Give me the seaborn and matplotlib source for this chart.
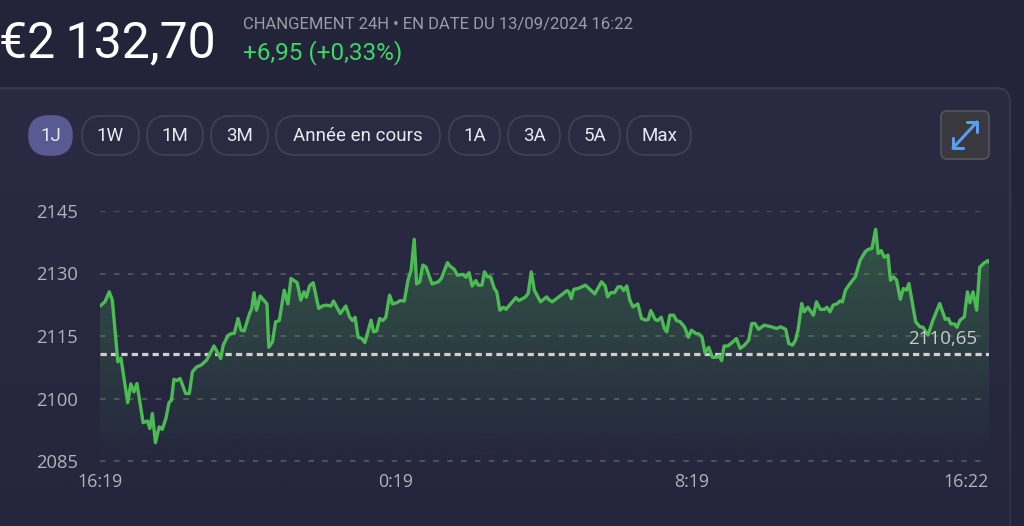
import numpy as np
import pandas as pd
import matplotlib
matplotlib.use("Agg")
import matplotlib.pyplot as plt
import seaborn as sns
from matplotlib.patches import FancyBboxPatch, Polygon
from matplotlib.colors import LinearSegmentedColormap, to_rgb
import matplotlib.transforms as mtransforms

# ---------------- data ----------------
minutes = [0, 8, 15, 20, 29, 34, 45, 50, 55, 60, 70, 77, 81, 85, 90, 96, 101, 107, 112, 116,
           120, 125, 130, 139, 145, 150, 157, 164, 173, 185, 196, 200, 208, 214, 218, 224, 229, 234, 243, 246,
           250, 254, 260, 271, 274, 280, 285, 291, 299, 305, 310, 315, 320, 326, 331, 335, 340, 346, 355, 361,
           367, 375, 379, 390, 399, 405, 410, 414, 419, 425, 430, 440, 444, 449, 454, 459, 464, 470, 475, 482,
           487, 494, 500, 505, 510, 514, 519, 524, 529, 539, 549, 554, 564, 568, 575, 580, 589, 594, 599, 604,
           610, 614, 620, 624, 629, 634, 640, 644, 649, 655, 659, 667, 675, 680, 690, 695, 700, 705, 715, 725,
           728, 734, 744, 758, 761, 765, 769, 776, 788, 803, 814, 820, 824, 829, 835, 841, 846, 850, 855, 860,
           865, 873, 879, 886, 890, 894, 901, 905, 911, 916, 920, 925, 931, 936, 942, 949, 955, 960, 967, 972,
           977, 982, 988, 994, 1001, 1005, 1009, 1013, 1019, 1026, 1033, 1039, 1046, 1053, 1058, 1063, 1069, 1078, 1090, 1098,
           1105, 1113, 1118, 1124, 1129, 1133, 1139, 1143, 1149, 1158, 1163, 1169, 1176, 1180, 1185, 1190, 1197, 1201, 1205, 1210,
           1217, 1226, 1234, 1242, 1247, 1253, 1259, 1263, 1268, 1273, 1279, 1283, 1288, 1293, 1299, 1304, 1309, 1313, 1324, 1331,
           1336, 1344, 1352, 1363, 1372, 1377, 1381, 1387, 1391, 1396, 1403, 1408, 1412, 1417, 1423, 1428, 1435, 1441, 1443]
prices = [2122.2, 2123.2, 2125.6, 2123.6, 2108.8, 2109.7, 2099.0, 2103.5, 2101.6, 2103.6, 2094.2, 2094.6, 2092.8, 2096.4, 2089.4, 2093.2, 2092.6, 2095.2, 2099.0, 2099.6,
          2104.6, 2104.3, 2104.8, 2101.2, 2101.2, 2106.4, 2107.6, 2108.0, 2109.2, 2112.6, 2109.6, 2112.8, 2115.2, 2115.6, 2115.6, 2119.2, 2116.4, 2116.2, 2120.5, 2121.4,
          2125.4, 2121.2, 2124.6, 2122.7, 2112.3, 2113.6, 2118.4, 2118.7, 2126.0, 2122.7, 2128.8, 2128.3, 2127.8, 2123.6, 2125.6, 2124.3, 2127.0, 2127.8, 2121.6, 2122.2,
          2122.4, 2122.2, 2123.4, 2120.4, 2122.2, 2119.6, 2118.7, 2119.5, 2114.7, 2114.4, 2113.4, 2118.8, 2116.0, 2116.2, 2119.2, 2118.7, 2119.5, 2124.8, 2122.7, 2123.0,
          2123.5, 2123.4, 2128.4, 2130.8, 2138.2, 2127.5, 2128.0, 2132.0, 2131.6, 2127.5, 2128.0, 2128.8, 2132.6, 2131.8, 2131.0, 2129.6, 2129.8, 2129.1, 2130.2, 2127.0,
          2128.3, 2127.2, 2127.2, 2130.4, 2129.2, 2129.2, 2126.4, 2125.6, 2121.2, 2121.9, 2121.4, 2122.8, 2124.2, 2123.5, 2124.3, 2125.2, 2130.4, 2126.0, 2123.2, 2124.4,
          2123.8, 2123.2, 2124.3, 2125.9, 2125.6, 2124.0, 2126.2, 2126.4, 2127.2, 2125.1, 2128.0, 2127.0, 2124.4, 2125.4, 2125.4, 2126.8, 2126.8, 2125.9, 2127.0, 2123.6,
          2122.0, 2122.7, 2119.2, 2118.8, 2119.0, 2121.1, 2119.0, 2118.7, 2119.5, 2116.8, 2116.0, 2120.0, 2120.0, 2118.7, 2118.4, 2117.1, 2114.7, 2116.4, 2115.6, 2115.5,
          2114.8, 2111.0, 2112.3, 2109.9, 2109.9, 2110.2, 2109.1, 2112.6, 2112.6, 2113.4, 2114.4, 2112.0, 2112.8, 2114.0, 2118.0, 2118.0, 2116.6, 2117.6, 2117.2, 2116.8,
          2117.2, 2116.6, 2113.2, 2112.8, 2114.0, 2116.4, 2122.8, 2120.8, 2121.9, 2120.0, 2123.2, 2121.4, 2121.4, 2121.9, 2120.8, 2122.4, 2122.8, 2123.4, 2123.2, 2126.0,
          2127.5, 2129.2, 2133.2, 2135.2, 2135.8, 2136.0, 2140.6, 2134.8, 2135.5, 2133.9, 2134.4, 2128.4, 2129.2, 2128.4, 2123.8, 2126.4, 2126.0, 2127.6, 2118.4, 2117.2,
          2117.1, 2115.2, 2118.8, 2122.8, 2119.0, 2119.2, 2117.9, 2117.9, 2117.1, 2118.8, 2119.6, 2125.6, 2123.0, 2125.6, 2121.2, 2131.5, 2132.5, 2133.1, 2132.7]
ref_price = 2110.65
ref_label = "2110,65"
y_ticks = [2085, 2100, 2115, 2130, 2145]
x_tick_minutes = [0, 480, 960, 1443]
x_tick_labels = ["16:19", "0:19", "8:19", "16:22"]
periods = ["1J", "1W", "1M", "3M", "Année en cours", "1A", "3A", "5A", "Max"]
header_price = "€2\u2009132,70"
header_info = "CHANGEMENT 24H • EN DATE DU 13/09/2024 16:22"
header_change = "+6,95 (+0,33%)"

# ---------------- style ----------------
BG = "#23243a"
CARD = "#2a2b43"
CARD_EDGE = "#3a3b54"
LINE = "#4cbb54"
GRID = "#5c5e5c"
TXT_AX = "#b2b2ba"

sns.set_theme(style="dark")
plt.rcParams["font.family"] = ["Open Sans", "DejaVu Sans"]
plt.rcParams["lines.scale_dashes"] = False
HEAD = ["Roboto", "DejaVu Sans"]

W, H = 1024, 526
fig = plt.figure(figsize=(W / 100, H / 100), dpi=100, facecolor=BG)

# background / HTML-like layer in pixel coordinates
bg = fig.add_axes([0, 0, 1, 1])
bg.set_xlim(0, W)
bg.set_ylim(H, 0)
bg.axis("off")
bg.set_facecolor(BG)

card = FancyBboxPatch((-30, 88), 1040, 480, boxstyle="round,pad=0,rounding_size=14",
                      facecolor=CARD, edgecolor=CARD_EDGE, linewidth=1.2, zorder=1)
bg.add_patch(card)
shade = np.linspace(0, 1, 256).reshape(-1, 1)
cm_shade = LinearSegmentedColormap.from_list("s", [(*to_rgb(BG), 0.0), (*to_rgb(BG), 0.7)])
im_s = bg.imshow(shade, extent=[-30, 1010, 568, 88], cmap=cm_shade, aspect="auto", zorder=1.5,
                 interpolation="bilinear")
im_s.set_clip_path(card)

bg.text(-1, 57, header_price, fontsize=36, color="white", family=HEAD,
        ha="left", va="baseline", zorder=3)
bg.text(243, 29, header_info, fontsize=12, color="#9c9ca2", family=HEAD,
        ha="left", va="baseline", zorder=3)
bg.text(243, 59, header_change, fontsize=17.5, color="#3bd867", family=HEAD,
        ha="left", va="baseline", zorder=3)

pill_x = [(29, 72), (82, 139), (147, 203), (211, 268), (276, 440), (449, 500), (508, 560), (569, 620), (627, 691)]
for i, (lab, (x0, x1)) in enumerate(zip(periods, pill_x)):
    sel = i == 0
    p = FancyBboxPatch((x0, 116), x1 - x0, 39, boxstyle="round,pad=0,rounding_size=19.5",
                       facecolor="#5a5a92" if sel else CARD, edgecolor="#5a5a92" if sel else "#41425a",
                       linewidth=1.2, zorder=3)
    bg.add_patch(p)
    bg.text((x0 + x1) / 2, 136, lab, fontsize=13.5, color="#e8e8ee", ha="center", va="center",
            family=HEAD, zorder=4)

icon = FancyBboxPatch((941, 111), 48, 48, boxstyle="round,pad=0,rounding_size=6",
                      facecolor="#38383e", edgecolor="#55565c", linewidth=1.2, zorder=3)
bg.add_patch(icon)
ac = "#5b9def"
bg.plot([953, 977], [148, 122], color=ac, lw=2.2, zorder=4, solid_capstyle="round")
bg.plot([967, 977, 977], [122, 122, 132], color=ac, lw=2.2, zorder=4, solid_capstyle="round")
bg.plot([953, 953, 963], [138, 148, 148], color=ac, lw=2.2, zorder=4, solid_capstyle="round")

# ---------------- chart ----------------
ylo, yhi = 2085 - 0.12, 2145 + 0.12
ax = fig.add_axes([100 / W, (H - 461.5) / H, 889 / W, 251 / H])
ax.set_facecolor("none")
for s in ax.spines.values():
    s.set_visible(False)

df = pd.DataFrame({"t": minutes, "p": prices})

for yv in y_ticks:
    ax.axhline(yv, color=GRID, lw=1.1, dashes=(4, 6), zorder=1)

rgb = to_rgb(LINE)
cm_fill = LinearSegmentedColormap.from_list("f", [(*rgb, 0.0), (*rgb, 0.30)])
grad = np.linspace(1, 0, 256).reshape(-1, 1)
im = ax.imshow(grad, extent=[minutes[0], minutes[-1], 2085, max(prices)], origin="upper",
               aspect="auto", cmap=cm_fill, zorder=2, interpolation="bilinear")
poly = Polygon(np.column_stack([minutes + [minutes[-1], minutes[0]], prices + [ylo, ylo]]),
               closed=True, transform=ax.transData, facecolor="none", edgecolor="none")
ax.add_patch(poly)
im.set_clip_path(poly)

ax.axhline(ref_price, color="#d0d0d0", lw=2.3, dashes=(4.5, 3), zorder=3)

sns.lineplot(data=df, x="t", y="p", ax=ax, color=LINE, linewidth=2.4, zorder=5)

ax.set_xlim(minutes[0], minutes[-1])
ax.set_ylim(ylo, yhi)
ax.set_yticks(y_ticks)
ax.set_yticklabels([str(v) for v in y_ticks])
ax.set_xticks(x_tick_minutes)
ax.set_xticklabels(x_tick_labels)
ax.set_xlabel("")
ax.set_ylabel("")
ax.grid(False)
ax.tick_params(axis="y", length=0, pad=16, labelsize=13.2, labelcolor=TXT_AX)
ax.tick_params(axis="x", length=0, pad=8.5, labelsize=12.8, labelcolor=TXT_AX)
ax.get_xticklabels()[-1].set_ha("right")

trans = mtransforms.blended_transform_factory(ax.transAxes, ax.transData)
ax.text((977 - 100) / 889, 2113.2, ref_label, transform=trans, ha="right", va="baseline",
        fontsize=13.5, color="#cacaca", zorder=6)

fig.savefig("out.png", dpi=100, facecolor=BG)
